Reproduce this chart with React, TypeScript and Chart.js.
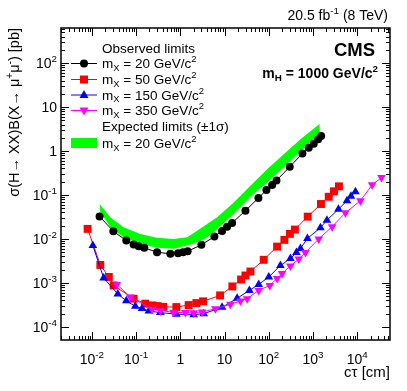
import React, { useEffect, useRef } from 'react';
import { Chart, registerables } from 'chart.js';
Chart.register(...registerables);

const FONT = '"Liberation Sans", Arial, sans-serif';

// Observed limits, mX = 20 GeV/c^2
const obs20X = [0.0149, 0.0305, 0.060, 0.0878, 0.114, 0.153, 0.297, 0.594, 0.887, 1.15, 1.46, 2.99, 5.88, 8.77, 11.4, 14.8, 29.6, 58.2, 88.3, 119, 149, 297, 575, 800, 1037, 1303, 1524];
const obs20Y = [0.0325, 0.0149, 0.00915, 0.00743, 0.0068, 0.00625, 0.00497, 0.00457, 0.00472, 0.00497, 0.00523, 0.00731, 0.0113, 0.0152, 0.019, 0.0231, 0.0438, 0.0851, 0.129, 0.168, 0.213, 0.436, 0.873, 1.19, 1.47, 1.85, 2.2];

// Expected limits band (+-1 sigma), mX = 20 GeV/c^2
const bandX = [0.0149, 0.0261, 0.0521, 0.1245, 0.297, 0.705, 1.42, 2.39, 4.02, 6.77, 16.1, 38.4, 91.6, 217, 519, 1418];
const bandUp = [0.0622, 0.0309, 0.0183, 0.013, 0.01055, 0.01, 0.0109, 0.0154, 0.0219, 0.0309, 0.0676, 0.162, 0.386, 0.845, 1.85, 4.18];
const bandLo = [0.0439, 0.0183, 0.0109, 0.0077, 0.00625, 0.00593, 0.00705, 0.00824, 0.0107, 0.0169, 0.0369, 0.091, 0.192, 0.42, 1.0, 2.44];

// mX = 50
const obs50X = [0.0080, 0.0155, 0.0241, 0.031, 0.0878, 0.161, 0.233, 0.302, 0.412, 0.812, 1.54, 2.30, 3.26, 7.91, 15.0, 23.6, 29.6, 38.4, 76.7, 154, 225, 300, 389, 759, 1510, 2265, 2971, 3855];
const obs50Y = [0.0169, 0.00255, 0.00136, 0.000873, 0.000435, 0.000336, 0.000307, 0.000296, 0.000284, 0.000281, 0.000312, 0.000346, 0.000379, 0.000518, 0.000828, 0.00119, 0.00147, 0.00181, 0.00334, 0.00668, 0.00949, 0.013, 0.0163, 0.0321, 0.0622, 0.091, 0.121, 0.157];

// mX = 150
const obs150X = [0.0105, 0.0184, 0.0385, 0.060, 0.096, 0.136, 0.194, 0.353, 0.812, 2.0, 3.37, 8.78, 19.2, 36.4, 59.1, 100, 183, 308, 421, 519, 747, 1470, 2061, 3755, 5850, 7200, 9100];
const obs150Y = [0.00705, 0.00129, 0.00056, 0.000389, 0.000292, 0.000259, 0.000228, 0.00021, 0.000194, 0.000187, 0.000199, 0.000277, 0.000443, 0.000673, 0.00092, 0.00136, 0.00248, 0.00357, 0.00489, 0.00602, 0.0102, 0.018, 0.0267, 0.0474, 0.0738, 0.0935, 0.118];

// mX = 350
const obs350X = [0.0366, 0.074, 0.229, 0.353, 0.695, 1.30, 2.0, 3.10, 6.19, 13.5, 22.8, 32.3, 59.1, 105, 154, 200, 308, 475, 673, 1345, 2704, 5410, 11800, 21700, 35300];
const obs350Y = [0.00092, 0.000479, 0.000249, 0.000233, 0.000213, 0.00021, 0.000208, 0.000217, 0.000256, 0.000324, 0.000385, 0.000436, 0.000673, 0.000873, 0.00126, 0.00163, 0.00242, 0.00348, 0.00489, 0.01, 0.019, 0.0394, 0.0738, 0.170, 0.249];

const xMajorExp = [-2, -1, 0, 1, 2, 3, 4];
const yMajorExp = [-4, -3, -2, -1, 0, 1, 2];

type Seg = { t: string; s?: 'sup' | 'sub' };

function richWidth(ctx: CanvasRenderingContext2D, segs: Seg[], size: number, bold = false) {
  const b = bold ? 'bold ' : '';
  let w = 0;
  for (const s of segs) {
    ctx.font = `${b}${s.s ? size * 0.7 : size}px ${FONT}`;
    w += ctx.measureText(s.t).width;
  }
  return w;
}

function rich(ctx: CanvasRenderingContext2D, segs: Seg[], x: number, y: number, size: number, align: 'left' | 'right' | 'center', bold = false) {
  const b = bold ? 'bold ' : '';
  const w = richWidth(ctx, segs, size, bold);
  let cx = align === 'right' ? x - w : align === 'center' ? x - w / 2 : x;
  ctx.textAlign = 'left';
  ctx.textBaseline = 'alphabetic';
  for (const s of segs) {
    ctx.font = `${b}${s.s ? size * 0.7 : size}px ${FONT}`;
    const dy = s.s === 'sup' ? -size * 0.42 : s.s === 'sub' ? size * 0.22 : 0;
    ctx.fillText(s.t, cx, y + dy);
    cx += ctx.measureText(s.t).width;
  }
}

function expLabel(n: number): Seg[] {
  if (n === 0) return [{ t: '1' }];
  if (n === 1) return [{ t: '10' }];
  return [{ t: '10' }, { t: String(n), s: 'sup' }];
}

function marker(ctx: CanvasRenderingContext2D, style: string, x: number, y: number, color: string) {
  ctx.fillStyle = color;
  ctx.beginPath();
  if (style === 'circle') ctx.arc(x, y, 4, 0, Math.PI * 2);
  else if (style === 'rect') ctx.rect(x - 4, y - 4, 8, 8);
  else if (style === 'tri') { ctx.moveTo(x, y - 5); ctx.lineTo(x + 4.5, y + 3); ctx.lineTo(x - 4.5, y + 3); ctx.closePath(); }
  else { ctx.moveTo(x, y + 5); ctx.lineTo(x + 4.5, y - 3); ctx.lineTo(x - 4.5, y - 3); ctx.closePath(); }
  ctx.fill();
}

const decor = {
  id: 'decor',
  afterDraw(chart: any) {
    const ctx: CanvasRenderingContext2D = chart.ctx;
    const { left, right, top, bottom } = chart.chartArea;
    const xs = chart.scales.x, ys = chart.scales.y;
    ctx.save();
    ctx.strokeStyle = '#000';
    ctx.lineWidth = 1;
    // ticks
    ctx.beginPath();
    for (let n = -4; n <= 5; n++) {
      for (let m = 1; m <= 9; m++) {
        const v = m * Math.pow(10, n);
        const len = m === 1 ? 8 : 4;
        if (v >= xs.min && v <= xs.max) {
          const px = Math.round(xs.getPixelForValue(v)) + 0.5;
          ctx.moveTo(px, bottom); ctx.lineTo(px, bottom - len);
          ctx.moveTo(px, top); ctx.lineTo(px, top + len);
        }
        if (v >= ys.min && v <= ys.max) {
          const py = Math.round(ys.getPixelForValue(v)) + 0.5;
          ctx.moveTo(left, py); ctx.lineTo(left + len, py);
          ctx.moveTo(right, py); ctx.lineTo(right - len, py);
        }
      }
    }
    ctx.stroke();
    ctx.lineWidth = 1.5;
    ctx.strokeRect(left, top, right - left, bottom - top);

    ctx.fillStyle = '#000';
    for (const n of xMajorExp) {
      const px = xs.getPixelForValue(Math.pow(10, n));
      rich(ctx, expLabel(n), px, 364, 14, 'center');
    }
    for (const n of yMajorExp) {
      const py = ys.getPixelForValue(Math.pow(10, n));
      rich(ctx, expLabel(n), 57, py + 5, 14, 'right');
    }
    // axis titles
    rich(ctx, [{ t: 'c\u03c4 [cm]' }], right, 377, 15, 'right');
    const ytitle: Seg[] = [{ t: '\u03c3(H\u2192 XX)B(X\u2192 \u03bc' }, { t: '+', s: 'sup' }, { t: '\u03bc' }, { t: '-', s: 'sup' }, { t: ') [pb]' }];
    const yw = richWidth(ctx, ytitle, 14.5);
    ctx.save();
    ctx.translate(19, top);
    ctx.rotate(-Math.PI / 2);
    if (yw > 205) ctx.scale(205 / yw, 1);
    rich(ctx, ytitle, 0, 0, 14.5, 'right');
    ctx.restore();

    // header texts
    rich(ctx, [{ t: '20.5 fb' }, { t: '-1', s: 'sup' }, { t: ' (8 TeV)' }], 388, 20, 14, 'right');
    rich(ctx, [{ t: 'CMS' }], 375, 56, 18.5, 'right', true);
    rich(ctx, [{ t: 'm' }, { t: 'H', s: 'sub' }, { t: ' = 1000 GeV/c' }, { t: '2', s: 'sup' }], 378, 78, 14, 'right', true);

    // legend
    const lx0 = 71, lx1 = 97, mx = 84, tx = 102;
    rich(ctx, [{ t: 'Observed limits' }], tx, 53, 13.5, 'left');
    const rows = [
      { y: 63, c: '#000000', s: 'circle', m: '20' },
      { y: 79, c: '#ff0000', s: 'rect', m: '50' },
      { y: 94.5, c: '#0000ff', s: 'tri', m: '150' },
      { y: 110, c: '#ff00ff', s: 'itri', m: '350' },
    ];
    for (const r of rows) {
      ctx.strokeStyle = r.c; ctx.lineWidth = 1;
      ctx.beginPath(); ctx.moveTo(lx0, r.y + 0.5); ctx.lineTo(lx1, r.y + 0.5); ctx.stroke();
      marker(ctx, r.s, mx, r.y + 0.5, r.c);
      ctx.fillStyle = '#000';
      rich(ctx, [{ t: 'm' }, { t: 'X', s: 'sub' }, { t: ` = ${r.m} GeV/c` }, { t: '2', s: 'sup' }], tx, r.y + 5, 13.5, 'left');
    }
    rich(ctx, [{ t: 'Expected limits (\u00b11\u03c3)' }], tx, 131, 13.5, 'left');
    ctx.fillStyle = '#00ff00';
    ctx.fillRect(lx0, 138, lx1 - lx0, 10);
    ctx.fillStyle = '#000';
    rich(ctx, [{ t: 'm' }, { t: 'X', s: 'sub' }, { t: ' = 20 GeV/c' }, { t: '2', s: 'sup' }], tx, 148, 13.5, 'left');
    ctx.restore();
  },
};

function zip(xs: number[], ys: number[]) {
  return xs.map((x, i) => ({ x, y: ys[i] }));
}

export default function App() {
  const ref = useRef<HTMLCanvasElement>(null);
  useEffect(() => {
    if (!ref.current) return;
    const series = (label: string, xs: number[], ys: number[], color: string, style: string, radius: number, order: number, rot = 0) => ({
      label, data: zip(xs, ys), borderColor: color, backgroundColor: color, borderWidth: 1,
      pointStyle: style, pointRadius: radius, pointRotation: rot, pointBorderWidth: 0, fill: false, order,
    });
    const chart = new Chart(ref.current, {
      type: 'line',
      data: {
        datasets: [
          { label: 'up', data: zip(bandX, bandUp), borderWidth: 0, pointRadius: 0, backgroundColor: '#00ff00', borderColor: 'rgba(0,0,0,0)', fill: '+1', order: 10 } as any,
          { label: 'lo', data: zip(bandX, bandLo), borderWidth: 0, pointRadius: 0, backgroundColor: '#00ff00', borderColor: 'rgba(0,0,0,0)', fill: false, order: 9 } as any,
          series('50', obs50X, obs50Y, '#ff0000', 'rect', 5.6, 4),
          series('150', obs150X, obs150Y, '#0000ff', 'triangle', 5, 3),
          series('350', obs350X, obs350Y, '#ff00ff', 'triangle', 5, 2, 180),
          series('20', obs20X, obs20Y, '#000000', 'circle', 4, 1),
        ],
      },
      options: {
        animation: false,
        responsive: false,
        maintainAspectRatio: false,
        layout: { padding: { left: 61, right: 17, top: 28, bottom: 51 } },
        plugins: { legend: { display: false }, tooltip: { enabled: false }, filler: { propagate: false } },
        elements: { line: { tension: 0 } },
        scales: {
          x: { type: 'logarithmic', min: 0.002, max: 55000, display: false },
          y: { type: 'logarithmic', min: 5e-5, max: 630, display: false },
        },
      },
      plugins: [decor],
    } as any);
    return () => chart.destroy();
  }, []);
  return (
    <div style={{ position: 'absolute', left: 0, top: 0, width: 407, height: 391, background: '#fff' }}>
      <canvas ref={ref} width={407} height={391} />
    </div>
  );
}
